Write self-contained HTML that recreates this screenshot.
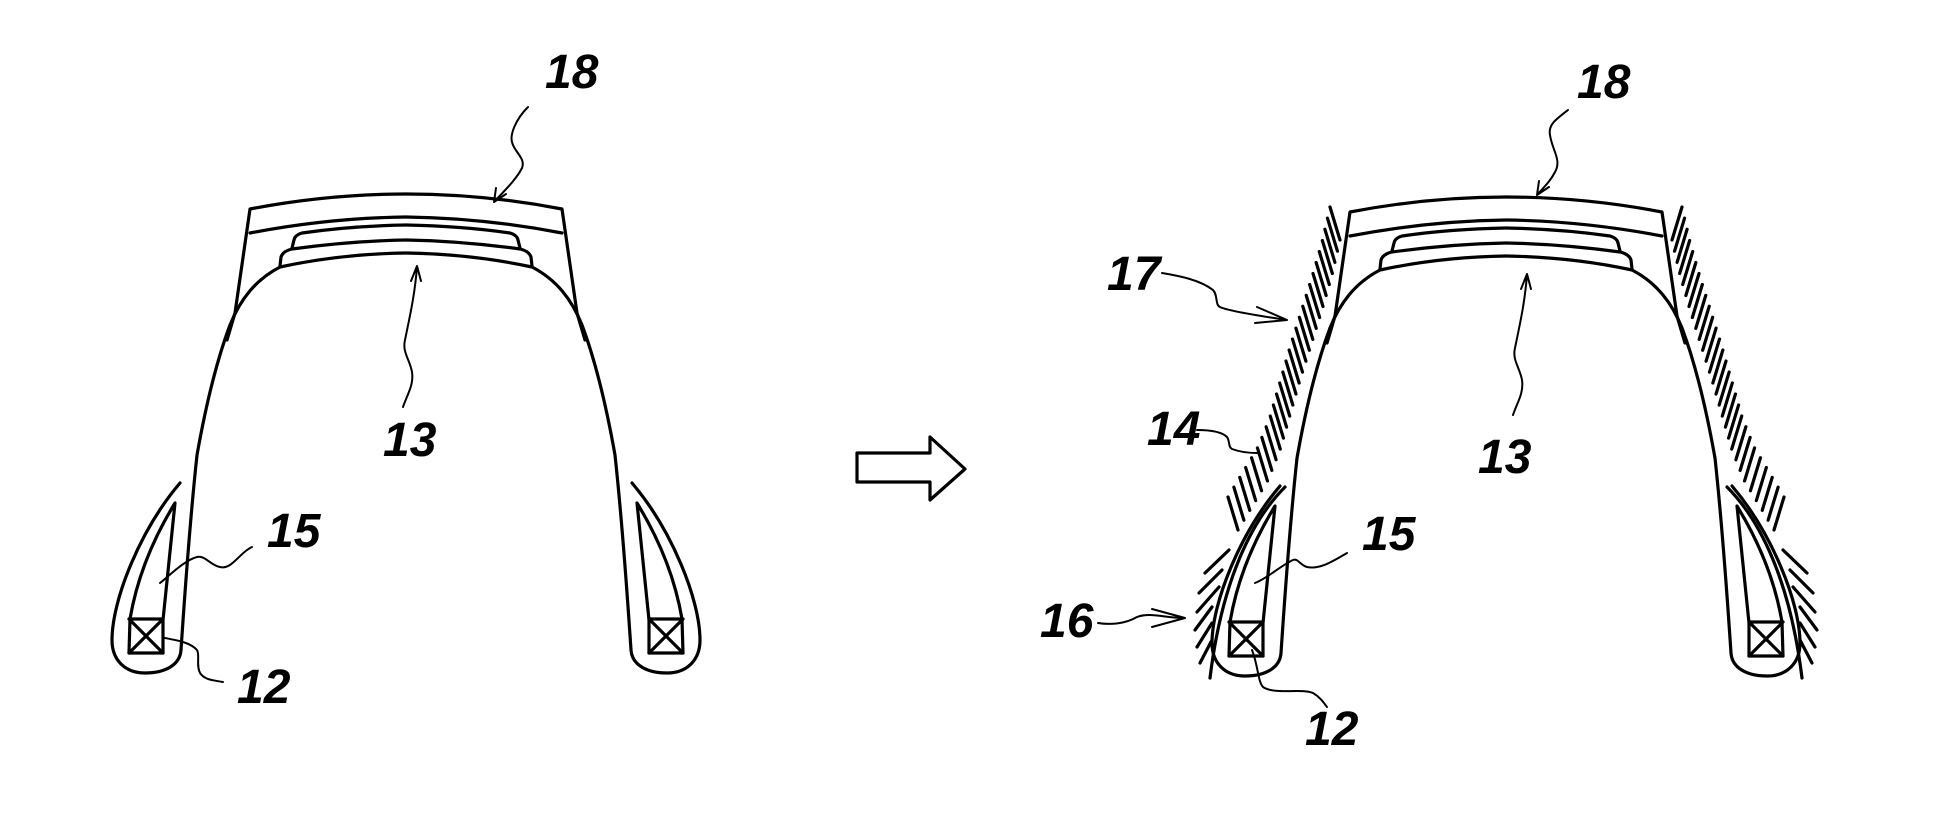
<!DOCTYPE html>
<html><head><meta charset="utf-8"><style>
html,body{margin:0;padding:0;background:#fff;}
svg{display:block;}
text{font-family:"Liberation Sans",sans-serif;font-style:italic;font-weight:bold;font-size:48px;fill:#000;}
.m{fill:none;stroke:#000;stroke-width:3.2;stroke-linejoin:round;stroke-linecap:round;}
.l{fill:none;stroke:#000;stroke-width:2;stroke-linecap:round;}
.h{stroke:#000;stroke-width:3.2;stroke-linecap:round;}
</style></head><body>
<svg width="1948" height="832" viewBox="0 0 1948 832" xmlns="http://www.w3.org/2000/svg" xmlns:xlink="http://www.w3.org/1999/xlink">
<defs>
<g id="h" class="m">
<path d="M406,194 Q328,194 250,209 L235,313 L227,340"/>
<path d="M406,217 Q328,218 250,233"/>
<path d="M406,225 Q350,226 302,233 Q295,235 294,240 L292,248"/>
<path d="M406,240 Q350,241 292,249 Q283,251 281,257 L280,266"/>
<path d="M406,253 Q340,254 280,267 C255,280 240,300 230,325 C215,365 205,410 197,455 C190,520 185,590 181,650 C180,665 165,673 145,673 C125,673 112,660 112,640 C112,600 140,530 180,483"/>
<path d="M175,503 Q140,560 130,619 L129,653 L163,653 L163,620 Z"/>
<path d="M129,619 L163,619 M129,619 L163,653 M163,619 L129,653"/>
</g>
<g id="t"><use xlink:href="#h" href="#h"/><use xlink:href="#h" href="#h" transform="translate(812,0) scale(-1,1)"/></g>
</defs>
<use xlink:href="#t" href="#t"/>
<use xlink:href="#t" href="#t" transform="translate(1100,3)"/>
<g id="hatch">
<path class="m" d="M1727,487 C1760,520 1790,580 1802,678"/>
<g class="h">
<line x1="1783" y1="550" x2="1807" y2="573"/>
<line x1="1790" y1="570" x2="1813" y2="593"/>
<line x1="1793" y1="587" x2="1815" y2="612"/>
<line x1="1800" y1="607" x2="1817" y2="630"/>
<line x1="1800" y1="623" x2="1815" y2="647"/>
<line x1="1800" y1="640" x2="1812" y2="663"/>
</g>
<g id="up" class="h"></g>
</g>
<use xlink:href="#hatch" href="#hatch" transform="translate(3012,0) scale(-1,1)"/>
<polygon class="m" points="857,453 930,453 930,437 965,469 930,500 930,482 857,482"/>
<g class="l">
<path d="M528,107 C515,120 510,135 512,142 C514,152 526,158 522,168 C516,180 503,192 494,202 M494,202 L496,188 M494,202 L506,194"/>
<path d="M1568,110 C1555,120 1548,125 1550,135 C1552,150 1562,160 1555,172 C1550,182 1543,188 1537,195 M1537,195 L1539,181 M1537,195 L1549,187"/>
<path d="M403,407 C407,395 414,385 412,372 C410,360 402,352 405,340 C409,320 415,295 417,266 M417,266 L411,281 M417,266 L421,281"/>
<path d="M1513,415 C1517,403 1524,393 1522,380 C1520,368 1512,360 1515,348 C1519,328 1525,303 1527,274 M1527,274 L1521,289 M1527,274 L1531,289"/>
<path d="M252,547 C240,552 232,570 220,567 C210,565 205,555 197,557 C185,560 170,575 160,583"/>
<path d="M223,682 C212,680 205,680 200,673 C196,665 200,655 197,650 C190,642 175,640 165,638"/>
<path d="M1347,553 C1335,560 1320,570 1307,567 C1300,565 1298,558 1293,560 C1280,566 1268,578 1255,583"/>
<path d="M1252,650 C1258,665 1258,682 1263,687 C1275,695 1300,688 1313,693 C1320,697 1324,703 1327,707"/>
<path d="M1162,273 C1180,276 1200,280 1213,290 C1218,295 1215,305 1220,307 C1228,311 1260,316 1287,320 M1287,320 L1257,307 M1287,320 L1255,323"/>
<path d="M1197,430 C1210,430 1222,432 1227,437 C1230,441 1228,447 1232,449 C1240,452 1250,453 1257,453"/>
<path d="M1098,623 C1110,625 1125,624 1137,617 C1150,612 1165,618 1185,618 M1185,618 L1152,609 M1185,618 L1152,627"/>
</g>
<text x="545" y="88">18</text>
<text x="383" y="456">13</text>
<text x="267" y="547">15</text>
<text x="237" y="703">12</text>
<text x="1577" y="98">18</text>
<text x="1478" y="473">13</text>
<text x="1362" y="550">15</text>
<text x="1305" y="745">12</text>
<text x="1107" y="290">17</text>
<text x="1147" y="445">14</text>
<text x="1040" y="637">16</text>
</svg>
<script>
(function(){
var g=[[1668,240],[1676,275],[1686,310],[1697,345],[1708,380],[1718,415],[1728,450],[1740,480],[1755,505],[1770,530]];
var up=document.getElementById('up');
var segs=[],tot=0;
for(var i=0;i<g.length-1;i++){var dx=g[i+1][0]-g[i][0],dy=g[i+1][1]-g[i][1],L=Math.sqrt(dx*dx+dy*dy);segs.push(L);tot+=L;}
var n=28;
for(var k=0;k<n;k++){
 var d=tot*k/(n-1),j=0;
 while(j<segs.length-1&&d>segs[j]){d-=segs[j];j++;}
 var t=Math.min(1,d/segs[j]);
 var x=g[j][0]+(g[j+1][0]-g[j][0])*t+4,y=g[j][1]+(g[j+1][1]-g[j][1])*t;
 var ln=document.createElementNS('http://www.w3.org/2000/svg','line');
 ln.setAttribute('x1',x);ln.setAttribute('y1',y);
 ln.setAttribute('x2',x+10);ln.setAttribute('y2',y-33);
 up.appendChild(ln);
}
})();
</script>
</body></html>
